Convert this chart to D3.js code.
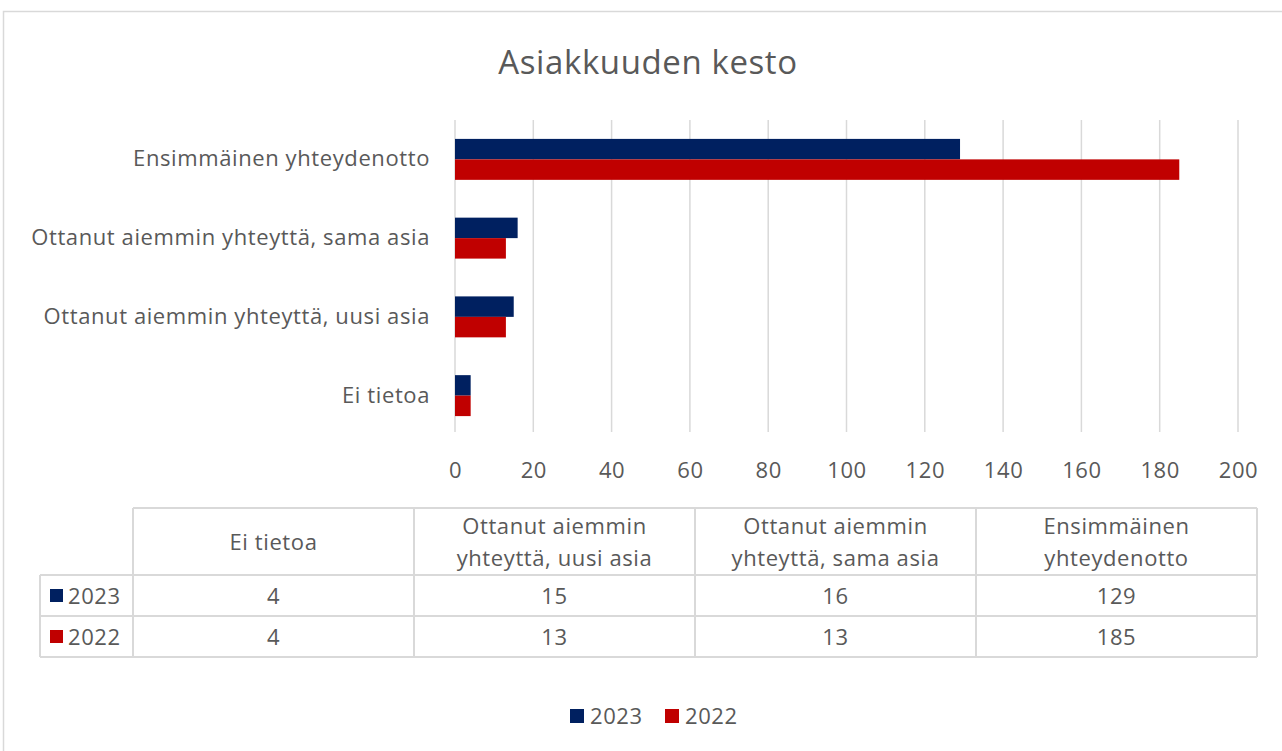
<!DOCTYPE html>
<html>
<head>
<meta charset="utf-8">
<script src="https://cdn.jsdelivr.net/npm/d3@7"></script>
<style>
  body { margin: 0; background: #fff; }
  text { font-family: "Open Sans", sans-serif; fill: #595959; letter-spacing: 0.6px; }
</style>
</head>
<body>
<div id="chart"></div>
<script>
const categories = ['Ei tietoa', 'Ottanut aiemmin yhteyttä, uusi asia', 'Ottanut aiemmin yhteyttä, sama asia', 'Ensimmäinen yhteydenotto'];
const headerLines = [['Ei tietoa'], ['Ottanut aiemmin', 'yhteyttä, uusi asia'], ['Ottanut aiemmin', 'yhteyttä, sama asia'], ['Ensimmäinen', 'yhteydenotto']];
const seriesNames = ['2023', '2022'];
const values2023 = [4, 15, 16, 129];
const values2022 = [4, 13, 13, 185];
const xTicks = [0, 20, 40, 60, 80, 100, 120, 140, 160, 180, 200];
const colors = ['#002060', '#C00000'];

const W = 1282, H = 751;
const FS = '22px';
const svg = d3.select('#chart').append('svg').attr('width', W).attr('height', H);

// outer chart border
svg.append('rect').attr('x', 3.5).attr('y', 11.5).attr('width', W + 10).attr('height', H + 10)
  .attr('fill', 'none').attr('stroke', '#d9d9d9').attr('stroke-width', 1.5);

svg.append('text').attr('x', 648).attr('y', 74).attr('text-anchor', 'middle')
  .style('font-size', '33px').text('Asiakkuuden kesto');

const plot = {left: 455, right: 1238, top: 120, bottom: 435};
const x = d3.scaleLinear().domain([0, 200]).range([plot.left, plot.right]);
const y = d3.scaleBand().domain(categories.slice().reverse()).range([plot.top, plot.bottom]).paddingInner(0.48).paddingOuter(0.24);
const ySub = d3.scaleBand().domain(seriesNames).range([0, y.bandwidth()]);

// gridlines
svg.append('g').selectAll('line').data(xTicks).join('line')
  .attr('x1', d => x(d)).attr('x2', d => x(d))
  .attr('y1', plot.top).attr('y2', plot.bottom - 3)
  .attr('stroke', '#d9d9d9').attr('stroke-width', 1.5);

const xAxis = d3.axisBottom(x).tickValues(xTicks).tickSize(0).tickPadding(0);
svg.append('g').attr('transform', `translate(0,${plot.bottom + 43})`).call(xAxis)
  .call(g => g.select('.domain').remove())
  .call(g => g.selectAll('text').style('font-size', FS).attr('fill', '#595959').attr('dy', 0));

const yAxis = d3.axisLeft(y).tickSize(0).tickPadding(25);
svg.append('g').attr('transform', `translate(${plot.left},0)`).call(yAxis)
  .call(g => g.select('.domain').remove())
  .call(g => g.selectAll('text').style('font-size', FS).attr('fill', '#595959'));

const series = [values2023, values2022];
const rows = categories.map((c, i) => ({cat: c, vals: series.map(s => s[i])}));
const groups = svg.append('g').selectAll('g').data(rows).join('g')
  .attr('transform', d => `translate(0,${y(d.cat)})`);
groups.selectAll('rect').data(d => d.vals.map((v, k) => ({v, k}))).join('rect')
  .attr('x', x(0)).attr('y', d => ySub(seriesNames[d.k]))
  .attr('width', d => x(d.v) - x(0)).attr('height', ySub.bandwidth())
  .attr('fill', d => colors[d.k]);

// data table
const colX = d3.scaleBand().domain(categories).range([133, 1257]);
const tTop = 508, hdrBottom = 575, rowH = 41, tLeft = 40;
const tg = svg.append('g').attr('stroke', '#d9d9d9').attr('stroke-width', 2);
tg.append('line').attr('x1', 133).attr('x2', 1257).attr('y1', tTop).attr('y2', tTop);
[0, 1, 2].forEach(i => {
  tg.append('line').attr('x1', tLeft).attr('x2', 1257)
    .attr('y1', hdrBottom + i * rowH).attr('y2', hdrBottom + i * rowH);
});
tg.append('line').attr('x1', tLeft).attr('x2', tLeft).attr('y1', hdrBottom).attr('y2', hdrBottom + 2 * rowH);
categories.forEach(c => {
  tg.append('line').attr('x1', colX(c)).attr('x2', colX(c)).attr('y1', tTop).attr('y2', hdrBottom + 2 * rowH);
});
tg.append('line').attr('x1', 1257).attr('x2', 1257).attr('y1', tTop).attr('y2', hdrBottom + 2 * rowH);

// header text
categories.forEach((c, i) => {
  const lines = headerLines[i];
  const cx = colX(c) + colX.bandwidth() / 2;
  const mid = (tTop + hdrBottom) / 2;
  lines.forEach((l, j) => {
    svg.append('text').attr('x', cx).attr('y', mid + (j - (lines.length - 1) / 2) * 32 + 8)
      .attr('text-anchor', 'middle').style('font-size', FS).text(l);
  });
});
// data rows
seriesNames.forEach((s, r) => {
  const ry = hdrBottom + r * rowH;
  svg.append('rect').attr('x', 50).attr('y', ry + 14).attr('width', 13).attr('height', 13).attr('fill', colors[r]);
  svg.append('text').attr('x', 68).attr('y', ry + 29).style('font-size', FS).text(s);
  categories.forEach((c, i) => {
    svg.append('text').attr('x', colX(c) + colX.bandwidth() / 2).attr('y', ry + 29)
      .attr('text-anchor', 'middle').style('font-size', FS).text(series[r][i]);
  });
});

// legend
const legend = svg.append('g').attr('transform', 'translate(570,709)');
seriesNames.forEach((s, i) => {
  const lg = legend.append('g').attr('transform', `translate(${i * 95},0)`);
  lg.append('rect').attr('width', 14).attr('height', 14).attr('fill', colors[i]);
  lg.append('text').attr('x', 20).attr('y', 15).style('font-size', FS).text(s);
});
</script>
</body>
</html>
